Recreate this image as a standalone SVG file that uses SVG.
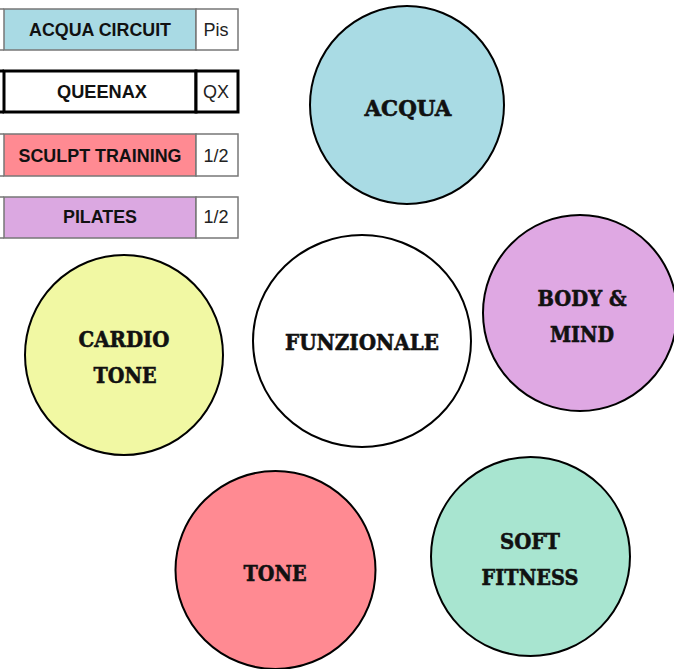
<svg xmlns="http://www.w3.org/2000/svg" width="674" height="669" viewBox="0 0 674 669">
<style>
.c{stroke:#000;stroke-width:2}
.t{font-family:"DejaVu Serif","Liberation Serif",serif;font-weight:bold;font-size:22px;fill:#111;stroke:#111;stroke-width:0.6;text-anchor:middle}
.lb{font-family:"Liberation Sans",Arial,sans-serif;font-weight:bold;font-size:17.5px;fill:#111;text-anchor:middle}
.lr{font-family:"Liberation Sans",Arial,sans-serif;font-size:18px;fill:#222;text-anchor:middle}
.g{stroke:#777;stroke-width:1.5}
</style>
<rect width="674" height="669" fill="#fff"/>
<g id="legend-acqua-circuit">
<rect x="4" y="9" width="192" height="41" fill="#a9dae4" class="g"/>
<rect x="196" y="9" width="42" height="41" fill="#fff" class="g"/>
<line x1="0" y1="9" x2="4" y2="9" class="g"/><line x1="0" y1="50" x2="4" y2="50" class="g"/>
<text x="100" y="36" class="lb" textLength="142" lengthAdjust="spacingAndGlyphs">ACQUA CIRCUIT</text>
<text x="216" y="36" class="lr">Pis</text>
</g>
<g id="legend-queenax">
<rect x="4" y="71" width="192" height="41" fill="#fff" stroke="#000" stroke-width="3"/>
<rect x="196" y="71" width="42" height="41" fill="#fff" stroke="#000" stroke-width="3"/>
<line x1="0" y1="71" x2="4" y2="71" stroke="#000" stroke-width="3"/><line x1="0" y1="112" x2="4" y2="112" stroke="#000" stroke-width="3"/>
<text x="102" y="98" class="lb" textLength="90" lengthAdjust="spacingAndGlyphs">QUEENAX</text>
<text x="216" y="98" class="lr">QX</text>
</g>
<g id="legend-sculpt-training">
<rect x="4" y="134" width="192" height="42" fill="#ff8a92" class="g"/>
<rect x="196" y="134" width="42" height="42" fill="#fff" class="g"/>
<line x1="0" y1="134" x2="4" y2="134" class="g"/><line x1="0" y1="176" x2="4" y2="176" class="g"/>
<text x="100" y="162" class="lb" textLength="163" lengthAdjust="spacingAndGlyphs">SCULPT TRAINING</text>
<text x="216" y="162" class="lr">1/2</text>
</g>
<g id="legend-pilates">
<rect x="4" y="197" width="192" height="41" fill="#dba8e1" class="g"/>
<rect x="196" y="197" width="42" height="41" fill="#fff" class="g"/>
<line x1="0" y1="197" x2="4" y2="197" class="g"/><line x1="0" y1="238" x2="4" y2="238" class="g"/>
<text x="100" y="223" class="lb" textLength="74" lengthAdjust="spacingAndGlyphs">PILATES</text>
<text x="216" y="223" class="lr">1/2</text>
</g>
<g id="acqua">
<ellipse cx="407" cy="105" rx="97" ry="99" fill="#a9dbe4" class="c"/>
<text x="408" y="116" class="t" textLength="87" lengthAdjust="spacingAndGlyphs">ACQUA</text>
</g>
<g id="cardio-tone">
<ellipse cx="124" cy="355" rx="99" ry="100" fill="#f1f8a3" class="c"/>
<text x="124" y="347" class="t" textLength="91" lengthAdjust="spacingAndGlyphs">CARDIO</text>
<text x="125" y="383" class="t" textLength="63" lengthAdjust="spacingAndGlyphs">TONE</text>
</g>
<g id="funzionale">
<ellipse cx="362" cy="341" rx="109" ry="106" fill="#fff" class="c"/>
<text x="362" y="350" class="t" textLength="154" lengthAdjust="spacingAndGlyphs">FUNZIONALE</text>
</g>
<g id="body-mind">
<ellipse cx="580" cy="313" rx="97" ry="98" fill="#dfa8e3" class="c"/>
<text x="582" y="306" class="t" textLength="89" lengthAdjust="spacingAndGlyphs">BODY &amp;</text>
<text x="582" y="342" class="t" textLength="64" lengthAdjust="spacingAndGlyphs">MIND</text>
</g>
<g id="tone">
<ellipse cx="275.5" cy="570" rx="100" ry="99" fill="#ff8a92" class="c"/>
<text x="275" y="581" class="t" textLength="63" lengthAdjust="spacingAndGlyphs">TONE</text>
</g>
<g id="soft-fitness">
<ellipse cx="530.5" cy="556.5" rx="99.5" ry="99.5" fill="#a8e5d0" class="c"/>
<text x="530" y="549" class="t" textLength="60" lengthAdjust="spacingAndGlyphs">SOFT</text>
<text x="530" y="585" class="t" textLength="97" lengthAdjust="spacingAndGlyphs">FITNESS</text>
</g>
<g id="connectors"></g>
</svg>
